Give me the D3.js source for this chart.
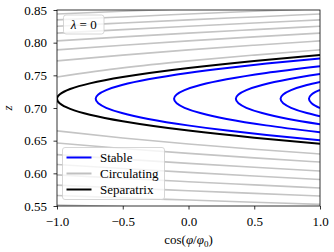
<!DOCTYPE html>
<html><head><meta charset="utf-8">
<script src="https://cdn.jsdelivr.net/npm/d3@7"></script>
<style>
html,body{margin:0;padding:0;background:#fff;}
svg text{font-family:'Liberation Serif';}
</style></head>
<body><svg id="chart" width="334" height="252"></svg>
<script>
// ---- data ----
const xTicks = [-1.0, -0.5, 0.0, 0.5, 1.0];
const yTicks = [0.55, 0.60, 0.65, 0.70, 0.75, 0.80, 0.85];
const xTickLabels = ["\u22121.0", "\u22120.5", "0.0", "0.5", "1.0"];
const yTickLabels = ["0.55", "0.60", "0.65", "0.70", "0.75", "0.80", "0.85"];

// circulating curves: z at cos = cGrid
const cGrid = [-1.0, -0.5, 0.0, 0.5, 1.0];
const circUpper = [
  [0.7475, 0.7614, 0.7721, 0.7810, 0.7890],
  [0.7721, 0.7810, 0.7890, 0.7961, 0.8027],
  [0.7890, 0.7961, 0.8027, 0.8088, 0.8146],
  [0.8027, 0.8088, 0.8146, 0.8200, 0.8252],
  [0.8146, 0.8200, 0.8252, 0.8301, 0.8349],
  [0.8252, 0.8301, 0.8349, 0.8394, 0.8438],
  [0.8349, 0.8394, 0.8438, 0.8481, 0.8522],
  [0.8438, 0.8481, 0.8522, 0.8562, 0.8601]
];
const circLower = [
  [0.6650, 0.6542, 0.6450, 0.6369, 0.6296],
  [0.6465, 0.6381, 0.6306, 0.6237, 0.6173],
  [0.6286, 0.6217, 0.6153, 0.6093, 0.6036],
  [0.6136, 0.6074, 0.6015, 0.5959, 0.5906],
  [0.5977, 0.5923, 0.5872, 0.5823, 0.5775],
  [0.5820, 0.5776, 0.5734, 0.5693, 0.5653],
  [0.5660, 0.5625, 0.5591, 0.5558, 0.5525],
  [0.5515, 0.5490, 0.5465, 0.5440, 0.5415]
];

// separatrix: [cos, z] ordered by z
const separatrix = [
  [1.0, 0.6453], [0.5, 0.6545], [0.0, 0.6654], [-0.5, 0.6797], [-0.75, 0.6897],
  [-0.9, 0.6986], [-0.98, 0.7071], [-1.0, 0.714], [-0.98, 0.7207], [-0.9, 0.729],
  [-0.75, 0.7377], [-0.5, 0.7475], [0.0, 0.7614], [0.5, 0.7721], [1.0, 0.7810]
];

// stable orbits: [cos, z] ordered by z
const stable = [
  [[1.0,0.6506],[0.594,0.6586],[0.294,0.6654],[-0.006,0.6734],[-0.306,0.6833],[-0.506,0.6923],[-0.626,0.7003],[-0.686,0.7071],[-0.706,0.714],
   [-0.686,0.7207],[-0.626,0.7274],[-0.506,0.7352],[-0.306,0.7440],[-0.006,0.7537],[0.294,0.7614],[0.594,0.7681],[1.0,0.7759]],
  [[1.0,0.6628],[0.59,0.6734],[0.29,0.6833],[0.09,0.6923],[-0.03,0.7003],[-0.09,0.7071],[-0.11,0.714],
   [-0.09,0.7207],[-0.03,0.7274],[0.09,0.7352],[0.29,0.7440],[0.59,0.7537],[1.0,0.7639]],
  [[1.0,0.6752],[0.76,0.6833],[0.56,0.6923],[0.44,0.7003],[0.38,0.7071],[0.36,0.714],
   [0.38,0.7207],[0.44,0.7274],[0.56,0.7352],[0.76,0.7440],[1.0,0.7519]],
  [[1.0,0.6874],[0.90,0.6923],[0.78,0.7003],[0.72,0.7071],[0.70,0.714],
   [0.72,0.7207],[0.78,0.7274],[0.90,0.7352],[1.0,0.7400]],
  [[1.0,0.6999],[0.966,0.7031],[0.936,0.7071],[0.916,0.714],
   [0.936,0.7207],[0.966,0.7246],[1.0,0.7277]]
];

const legendItems = [
  {label: "Stable", color: "#0000ff"},
  {label: "Circulating", color: "#c0c0c0"},
  {label: "Separatrix", color: "#000000"}
];

// ---- drawing ----
const FONT = "'Liberation Serif'";
const svg = d3.select("#chart");
const L = 57, R = 320, T = 10, B = 206;
const x = d3.scaleLinear().domain([-1, 1]).range([L, R]);
const y = d3.scaleLinear().domain([0.55, 0.85]).range([B, T]);

svg.append("defs").append("clipPath").attr("id", "clip")
  .append("rect").attr("x", L).attr("y", T).attr("width", R - L).attr("height", B - T);

const plot = svg.append("g").attr("clip-path", "url(#clip)");

const lineX = d3.line().x(d => x(d[0])).y(d => y(d[1])).curve(d3.curveMonotoneX);
const lineY = d3.line().x(d => x(d[0])).y(d => y(d[1])).curve(d3.curveMonotoneY);

const circ = circUpper.concat(circLower).map(zs => zs.map((z, i) => [cGrid[i], z]));
plot.selectAll("path.circ").data(circ).join("path").attr("class", "circ")
  .attr("d", lineX).attr("fill", "none").attr("stroke", "#c4c4c4").attr("stroke-width", 1.6);

plot.append("path").datum(separatrix).attr("d", lineY)
  .attr("fill", "none").attr("stroke", "#000").attr("stroke-width", 2);

plot.selectAll("path.stable").data(stable).join("path").attr("class", "stable")
  .attr("d", lineY).attr("fill", "none").attr("stroke", "#0000ff").attr("stroke-width", 2);

// axes
const xAxis = d3.axisBottom(x).tickValues(xTicks).tickSize(3.5).tickPadding(7)
  .tickFormat((d, i) => xTickLabels[i]);
const yAxis = d3.axisLeft(y).tickValues(yTicks).tickSize(3.5).tickPadding(6.5)
  .tickFormat((d, i) => yTickLabels[i]);
const gx = svg.append("g").attr("transform", `translate(0,${B})`).call(xAxis);
const gy = svg.append("g").attr("transform", `translate(${L},0)`).call(yAxis);
[gx, gy].forEach(g => {
  g.attr("font-family", null).attr("font-size", null);
  g.select(".domain").remove();
  g.selectAll(".tick line").attr("stroke", "#000").attr("stroke-width", 0.8);
  g.selectAll(".tick text").style("font-family", FONT).style("font-size", "13px").attr("fill", "#000");
});

svg.append("rect").attr("x", L).attr("y", T).attr("width", R - L).attr("height", B - T)
  .attr("fill", "none").attr("stroke", "#000").attr("stroke-width", 0.8);

// axis labels
const xl = svg.append("text").attr("x", (L + R) / 2).attr("y", 244).attr("text-anchor", "middle")
  .style("font-family", FONT).style("font-size", "13px");
xl.append("tspan").text("cos(");
xl.append("tspan").attr("font-style", "italic").text("\u03c6");
xl.append("tspan").text("/");
xl.append("tspan").attr("font-style", "italic").text("\u03c6");
xl.append("tspan").style("font-size", "9px").attr("dy", 2.5).text("0");
xl.append("tspan").attr("dy", -2.5).text(")");

svg.append("text").attr("transform", `translate(12,${(T + B) / 2}) rotate(-90)`)
  .attr("text-anchor", "middle").attr("font-style", "italic")
  .style("font-family", FONT).style("font-size", "13px").text("z");

// lambda box
svg.append("rect").attr("x", 63.5).attr("y", 15).attr("width", 40.5).attr("height", 19)
  .attr("rx", 2.5).attr("fill", "#fff").attr("fill-opacity", 0.8).attr("stroke", "#cccccc").attr("stroke-width", 0.8);
const lt = svg.append("text").attr("x", 83.7).attr("y", 29).attr("text-anchor", "middle")
  .style("font-family", FONT).style("font-size", "13px");
lt.append("tspan").attr("font-style", "italic").text("\u03bb");
lt.append("tspan").text(" = 0");

// legend
const lg = svg.append("g");
lg.append("rect").attr("x", 62.5).attr("y", 147.5).attr("width", 102).attr("height", 52)
  .attr("rx", 2.5).attr("fill", "#fff").attr("fill-opacity", 0.8).attr("stroke", "#cccccc").attr("stroke-width", 0.8);
legendItems.forEach((d, i) => {
  const yy = 157.5 + i * 16;
  lg.append("line").attr("x1", 66.5).attr("x2", 91.5).attr("y1", yy).attr("y2", yy)
    .attr("stroke", d.color).attr("stroke-width", 2);
  lg.append("text").attr("x", 100).attr("y", yy + 4)
    .style("font-family", FONT).style("font-size", "13px").text(d.label);
});
</script></body></html>
